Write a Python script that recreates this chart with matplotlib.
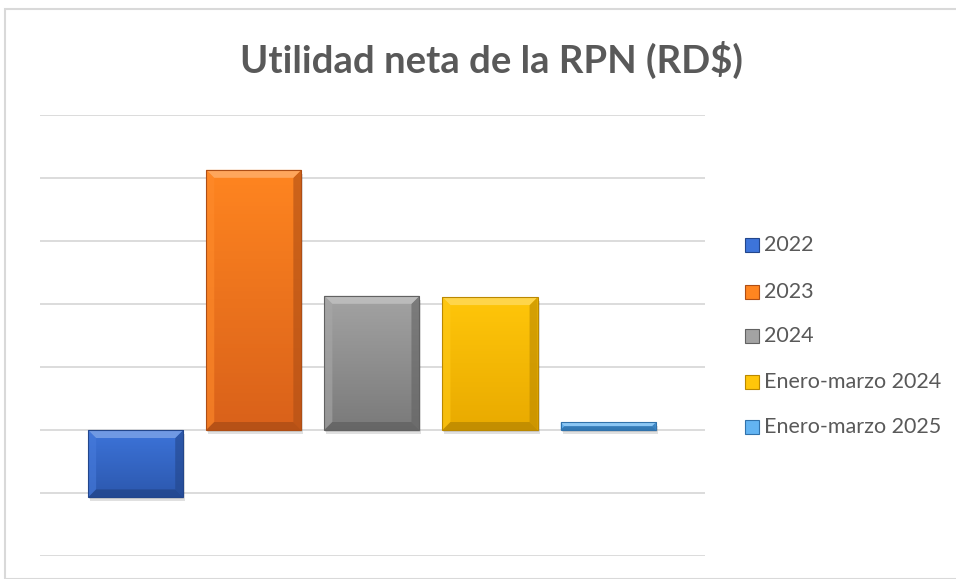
import numpy as np
import matplotlib.pyplot as plt
from matplotlib.patches import Polygon, Rectangle
from matplotlib.colors import to_rgb

# Datos (unidades = separación entre líneas de cuadrícula)
series = ['2022', '2023', '2024', 'Enero-marzo 2024', 'Enero-marzo 2025']
valores = [-1.07, 4.13, 2.13, 2.11, 0.12]
color_top = ['#3D74DA', '#FF8520', '#A3A3A3', '#FFC60A', '#63B4F2']
color_bot = ['#2C58AE', '#D9611A', '#7A7A7A', '#E9AA00', '#3D8FD6']

plt.rcParams['font.family'] = ['Lato', 'DejaVu Sans']
texto = '#595959'

fig = plt.figure(figsize=(9.56, 5.79), dpi=100)
fig.patches.append(Rectangle((5 / 956, 0), 1, 1 - 9 / 579, transform=fig.transFigure,
                             fill=False, edgecolor='#D9D9D9', linewidth=1.5))

ax = fig.add_axes([40 / 956, 23 / 579, 665 / 956, 441 / 579])
ax.set_xlim(-0.81, 4.82)
ax.set_ylim(-2, 5)
ax.set_yticks(np.arange(-2, 6, 1))
ax.set_xticks([])
ax.tick_params(left=False, labelleft=False)
ax.grid(axis='y', color='#D9D9D9', linewidth=1.3)
ax.set_axisbelow(True)
for s in ax.spines.values():
    s.set_visible(False)

x = np.arange(len(series))
ancho = 0.805
bars = ax.bar(x, valores, width=ancho, color=color_bot, zorder=3)

# escala px -> datos para el bisel
p0 = ax.transData.transform((0, 0))
p1 = ax.transData.transform((1, 1))
ux = 1 / (p1[0] - p0[0])
uy = 1 / (p1[1] - p0[1])

for b, ct, cb in zip(bars, color_top, color_bot):
    x0, w = b.get_x(), b.get_width()
    y0, h = b.get_y(), b.get_height()
    y_lo, y_hi = min(y0, y0 + h), max(y0, y0 + h)
    # sombra
    ax.add_patch(Rectangle((x0 + 2 * ux, y_lo - 4 * uy), w, y_hi - y_lo, color='#000000',
                           alpha=0.12, zorder=2, linewidth=0))
    ax.add_patch(Rectangle((x0 + 1 * ux, y_lo - 2 * uy), w, y_hi - y_lo, color='#000000',
                           alpha=0.10, zorder=2, linewidth=0))
    # degradado vertical
    grad = np.linspace(0, 1, 64)[:, None]
    c1, c2 = np.array(to_rgb(ct)), np.array(to_rgb(cb))
    img = c1[None, None, :] * (1 - grad[..., None]) + c2[None, None, :] * grad[..., None]
    im = ax.imshow(img, extent=(x0, x0 + w, y_lo, y_hi), origin='upper', aspect='auto', zorder=3)
    im.set_clip_path(b)
    # bisel
    bx = 8 * ux
    by = min(8 * uy, (y_hi - y_lo) / 2)
    bx2 = min(bx, by * ux / uy) if (y_hi - y_lo) / 2 < 8 * uy else bx
    cl = np.clip(c1 + (1 - c1) * 0.30, 0, 1)
    cd = c2 * 0.80
    top = [(x0, y_hi), (x0 + w, y_hi), (x0 + w - bx2, y_hi - by), (x0 + bx2, y_hi - by)]
    bot = [(x0, y_lo), (x0 + w, y_lo), (x0 + w - bx2, y_lo + by), (x0 + bx2, y_lo + by)]
    izq = [(x0, y_lo), (x0 + bx2, y_lo + by), (x0 + bx2, y_hi - by), (x0, y_hi)]
    der = [(x0 + w, y_lo), (x0 + w - bx2, y_lo + by), (x0 + w - bx2, y_hi - by), (x0 + w, y_hi)]
    ax.add_patch(Polygon(izq, closed=True, color=c1 * 0.95 + 0.05, linewidth=0, zorder=4, alpha=0.6))
    ax.add_patch(Polygon(der, closed=True, color=cd, linewidth=0, zorder=4, alpha=0.6))
    ax.add_patch(Polygon(top, closed=True, color=cl, linewidth=0, zorder=4, alpha=0.9))
    ax.add_patch(Polygon(bot, closed=True, color=cd, linewidth=0, zorder=4, alpha=0.8))
    ax.add_patch(Rectangle((x0, y_lo), w, y_hi - y_lo, fill=False, edgecolor=cd,
                           linewidth=0.8, zorder=5))

ax.set_xlim(-0.81, 4.82)
ax.set_ylim(-2, 5)

fig.text(491 / 956, 1 - 60 / 579, 'Utilidad neta de la RPN (RD$)', ha='center', va='center',
         fontsize=27.5, fontweight='bold', color=texto)

# leyenda
filas_y = [245, 292, 336, 382, 427]
for nombre, ct, cb, yy in zip(series, color_top, color_bot, filas_y):
    yf = 1 - yy / 579
    fig.patches.append(Rectangle((745 / 956, yf - 7 / 579), 14 / 956, 14 / 579,
                                 transform=fig.transFigure, facecolor=ct,
                                 edgecolor=np.array(to_rgb(cb)) * 0.8, linewidth=0.8))
    fig.text(764 / 956, yf, nombre, ha='left', va='center', fontsize=15.5, color=texto)

fig.savefig('out.png', dpi=100)
